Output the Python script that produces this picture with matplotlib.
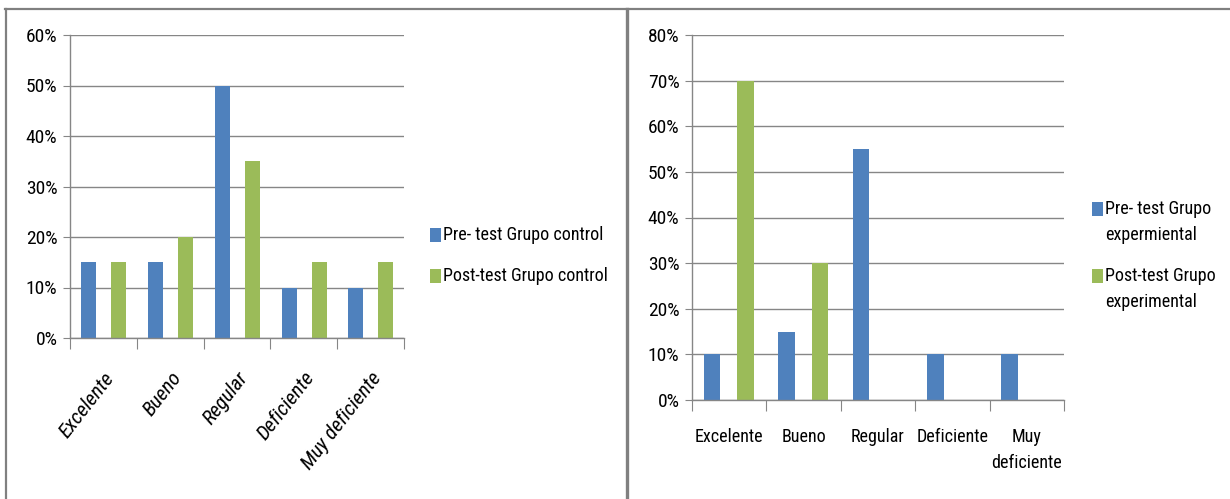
import matplotlib
matplotlib.use("Agg")
import matplotlib.pyplot as plt
import numpy as np
from matplotlib.lines import Line2D
from matplotlib.patches import Rectangle
from matplotlib.ticker import PercentFormatter
from matplotlib import font_manager

categories = ["Excelente", "Bueno", "Regular", "Deficiente", "Muy deficiente"]
categories_right = ["Excelente", "Bueno", "Regular", "Deficiente", "Muy\ndeficiente"]
pre_control = [15, 15, 50, 10, 10]
post_control = [15, 20, 35, 15, 15]
pre_exp = [10, 15, 55, 10, 10]
post_exp = [70, 30, 0, 0, 0]
labels_left = ["Pre- test Grupo control", "Post-test Grupo control"]
labels_right = ["Pre- test Grupo\nexpermiental", "Post-test Grupo\nexperimental"]

BLUE = "#4F81BD"
GREEN = "#9BBB59"
GRAY = "#868686"

chosen = None
for fam in ["Liberation Sans Narrow", "Roboto Condensed", "Open Sans Condensed",
            "Noto Sans Condensed", "DejaVu Sans Condensed"]:
    try:
        font_manager.findfont(fam, fallback_to_default=False)
        chosen = fam
        break
    except Exception:
        pass
if chosen is None:
    chosen = "Liberation Sans"
    FS = 11.5
elif chosen == "DejaVu Sans Condensed":
    FS = 11.5
else:
    FS = 13

plt.rcParams['font.family'] = [chosen, 'DejaVu Sans']

fig = plt.figure(figsize=(12.3, 4.99), dpi=100)

W, H = 1230, 499
def fx(x): return x / W
def fy(y): return 1 - y / H

# panel frames
fig.add_artist(Line2D([fx(5), fx(1230)], [fy(9), fy(9)], color="#808080", lw=1.6))
fig.add_artist(Line2D([fx(5.5), fx(5.5)], [fy(9), fy(499)], color="#808080", lw=1.6))
fig.add_artist(Line2D([fx(627), fx(627)], [fy(9), fy(499)], color="#808080", lw=2.4))


def style_axes(ax, ymax):
    ax.set_ylim(0, ymax)
    ax.set_yticks(np.arange(0, ymax + 1, 10))
    ax.yaxis.set_major_formatter(PercentFormatter(decimals=0))
    ax.grid(axis="y", color=GRAY, lw=1.0)
    ax.set_axisbelow(True)
    for s in ["top", "right"]:
        ax.spines[s].set_visible(False)
    for s in ["left", "bottom"]:
        ax.spines[s].set_color(GRAY)
        ax.spines[s].set_linewidth(1.0)
    ax.tick_params(axis="y", length=5, color=GRAY, labelsize=FS + 1, pad=4)
    ax.set_xlim(-0.5, len(categories) - 0.5)
    ax.set_xticks(np.arange(-0.5, len(categories) + 0.5, 1))
    ax.set_xticklabels([])
    ax.tick_params(axis="x", which="major", length=8, color=GRAY)
    ax.set_xticks(np.arange(len(categories)), minor=True)
    ax.tick_params(axis="x", which="minor", length=0, labelsize=FS)


def manual_legend(x0, entries):
    # entries: list of (color, label, y of first text line centre in pixels)
    for color, label, yc in entries:
        fig.add_artist(Rectangle((fx(x0), fy(yc + 7)), 11 / W, 14 / H,
                                 transform=fig.transFigure, color=color, lw=0))
        fig.text(fx(x0 + 13), fy(yc - 9), label, fontsize=FS, ha="left",
                 va="top", linespacing=1.6)


x = np.arange(len(categories))
bw = 0.225

# left chart
ax1 = fig.add_axes([70 / W, (H - 338) / H, 334 / W, 303 / H])
ax1.bar(x - 0.22, pre_control, bw, color=BLUE)
ax1.bar(x + 0.23, post_control, bw, color=GREEN)
style_axes(ax1, 60)
ax1.set_xticklabels(categories, minor=True, rotation=52, ha="right",
                    rotation_mode="anchor", style="italic", fontsize=FS + 2)
ax1.tick_params(axis="x", which="minor", pad=22)
manual_legend(430, [(BLUE, labels_left[0], 235), (GREEN, labels_left[1], 276)])

# right chart
ax2 = fig.add_axes([692 / W, (H - 400) / H, 372 / W, 365 / H])
ax2.bar(x - 0.23, pre_exp, bw, color=BLUE)
ax2.bar(x + 0.22, post_exp, bw, color=GREEN)
style_axes(ax2, 80)
ax2.set_xticklabels(categories_right, minor=True, linespacing=1.6)
ax2.tick_params(axis="x", which="minor", pad=20)
manual_legend(1092, [(BLUE, labels_right[0], 209), (GREEN, labels_right[1], 276)])

fig.savefig("out.png", dpi=100, facecolor="white")
